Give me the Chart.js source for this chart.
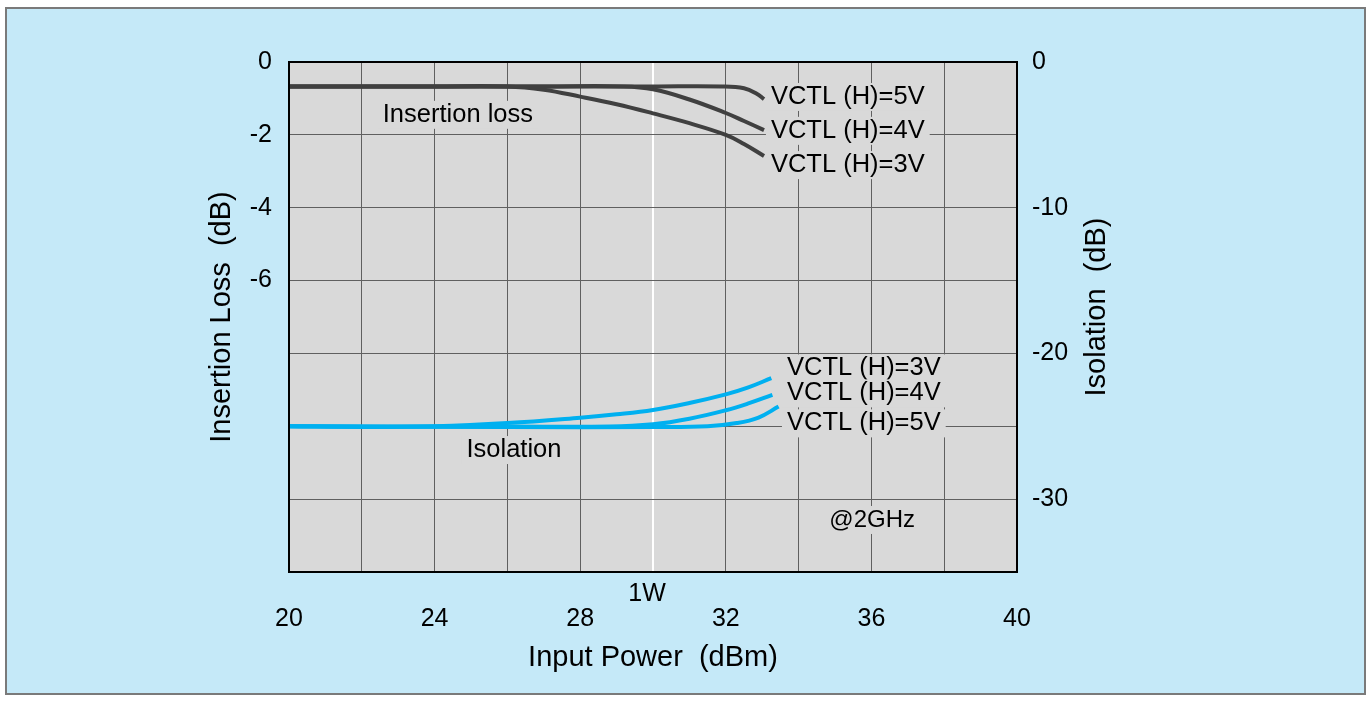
<!DOCTYPE html>
<html>
<head>
<meta charset="utf-8">
<script src="https://cdn.jsdelivr.net/npm/chart.js@4.4.1/dist/chart.umd.min.js"></script>
<style>
  html, body { margin: 0; padding: 0; background: #fff; }
  #frame {
    position: absolute; left: 5px; top: 7px; width: 1361px; height: 688px;
    box-sizing: border-box; border: 2px solid #7a7a7a; background: #c5e9f8;
  }
  #chart { position: absolute; left: 0; top: 0; }
</style>
</head>
<body>
<div id="frame"></div>
<canvas id="chart" width="1372" height="703"></canvas>
<script>
// insertion loss (left axis, dB) vs input power (dBm)
const il3X = [20, 24, 26.0, 27, 28, 29, 30, 31, 32, 32.5, 33.05]
const il3Y = [-0.67, -0.67, -0.67, -0.76, -0.95, -1.16, -1.41, -1.68, -2.0, -2.25, -2.58]
const il4X = [20, 27, 29.2, 30, 31, 32, 32.5, 33.05]
const il4Y = [-0.67, -0.67, -0.67, -0.75, -1.03, -1.4, -1.62, -1.87]
const il5X = [20, 30, 31.9, 32.5, 32.85, 33.05]
const il5Y = [-0.67, -0.67, -0.67, -0.72, -0.87, -1.02]

// isolation (right axis, dB)
const iso3X = [20, 22, 24, 26, 28, 29, 30, 31, 32, 32.6, 33.25]
const iso3Y = [-25, -25.05, -25.0, -24.78, -24.41, -24.18, -23.88, -23.4, -22.81, -22.35, -21.7]
const iso4X = [20, 26, 28.8, 30, 31, 32, 32.6, 33.28]
const iso4Y = [-25, -25.02, -25.02, -24.86, -24.48, -23.9, -23.45, -22.85]
const iso5X = [20, 26, 30, 31.5, 32.3, 32.9, 33.45]
const iso5Y = [-25, -25.05, -25.05, -25.0, -24.78, -24.4, -23.65]

const xTicks = [20, 24, 28, 32, 36, 40]
const leftTicks = [0, -2, -4, -6]
const rightTicks = [0, -10, -20, -30]

const FONT = "'Liberation Sans', Arial, sans-serif"
const IL_COLOR = '#404040'
const ISO_COLOR = '#00b0f0'
const GRID = '#606060'
const PLOT_BG = '#d9d9d9'

function pts(xs, ys) {
    return xs.map((x, i) => ({ x: x, y: ys[i] }))
}

function line(label, xs, ys, color, axis) {
    return {
        label: label,
        data: pts(xs, ys),
        borderColor: color,
        borderWidth: 4,
        pointRadius: 0,
        tension: 0.4,
        yAxisID: axis
    }
}

// text notes placed in data coordinates
const notes = [
    { text: 'Insertion loss', x: 24.64, y: -1.45, axis: 'yL', align: 'center', size: 25.5 },
    { text: 'VCTL (H)=5V', x: 33.24, y: -0.96, axis: 'yL', align: 'left', size: 25.5 },
    { text: 'VCTL (H)=4V', x: 33.24, y: -1.89, axis: 'yL', align: 'left', size: 25.5 },
    { text: 'VCTL (H)=3V', x: 33.24, y: -2.83, axis: 'yL', align: 'left', size: 25.5 },
    { text: 'VCTL (H)=3V', x: 33.68, y: -21.03, axis: 'yR', align: 'left', size: 25.5 },
    { text: 'VCTL (H)=4V', x: 33.68, y: -22.74, axis: 'yR', align: 'left', size: 25.5 },
    { text: 'VCTL (H)=5V', x: 33.68, y: -24.8, axis: 'yR', align: 'left', size: 25.5 },
    { text: 'Isolation', x: 26.18, y: -26.63, axis: 'yR', align: 'center', size: 25.5 },
    { text: '@2GHz', x: 36.02, y: -31.43, axis: 'yR', align: 'center', size: 24 }
]

const plotDecor = {
    id: 'plotDecor',
    beforeDraw(chart) {
        const a = chart.chartArea
        const ctx = chart.ctx
        ctx.save()
        ctx.fillStyle = PLOT_BG
        ctx.fillRect(a.left, a.top, a.right - a.left, a.bottom - a.top)
        ctx.restore()
    },
    afterDatasetsDraw(chart) {
        const ctx = chart.ctx
        const sx = chart.scales.x
        ctx.save()
        ctx.textBaseline = 'middle'
        notes.forEach(n => {
            ctx.font = n.size + 'px ' + FONT
            const px = sx.getPixelForValue(n.x)
            const py = chart.scales[n.axis].getPixelForValue(n.y)
            const w = ctx.measureText(n.text).width
            const left = n.align === 'center' ? px - w / 2 : px
            ctx.fillStyle = PLOT_BG
            ctx.fillRect(left - 5, py - 14, w + 10, 28)
            ctx.fillStyle = '#000'
            ctx.textAlign = 'left'
            ctx.fillText(n.text, left, py)
        })
        // frame of the plot
        const a = chart.chartArea
        ctx.strokeStyle = '#000'
        ctx.lineWidth = 2
        ctx.strokeRect(a.left, a.top, a.right - a.left, a.bottom - a.top)
        // 1W marker
        ctx.font = '25px ' + FONT
        ctx.textAlign = 'center'
        ctx.fillText('1W', sx.getPixelForValue(30) - 6, 594)
        // right axis title, reading upwards like the left one
        ctx.translate(1097, 307)
        ctx.rotate(-Math.PI / 2)
        ctx.font = '29px ' + FONT
        ctx.fillText('Isolation  (dB)', 0, 0)
        ctx.restore()
    }
}

Chart.defaults.font.family = FONT
Chart.defaults.color = '#000'

new Chart(document.getElementById('chart'), {
    type: 'line',
    data: {
        datasets: [
            line('IL 5V', il5X, il5Y, IL_COLOR, 'yL'),
            line('IL 4V', il4X, il4Y, IL_COLOR, 'yL'),
            line('IL 3V', il3X, il3Y, IL_COLOR, 'yL'),
            line('ISO 5V', iso5X, iso5Y, ISO_COLOR, 'yR'),
            line('ISO 4V', iso4X, iso4Y, ISO_COLOR, 'yR'),
            line('ISO 3V', iso3X, iso3Y, ISO_COLOR, 'yR')
        ]
    },
    options: {
        responsive: false,
        animation: false,
        layout: { padding: { top: 62, left: 0, right: 0, bottom: 0 } },
        plugins: { legend: { display: false }, tooltip: { enabled: false } },
        scales: {
            x: {
                type: 'linear',
                min: 20, max: 40,
                afterFit(s) { s.height = 131 },
                border: { display: false },
                grid: {
                    drawTicks: false,
                    color: c => c.tick && c.tick.value === 30 ? '#ffffff' : GRID,
                    lineWidth: c => c.tick && c.tick.value === 30 ? 2 : 1
                },
                ticks: {
                    stepSize: 2, autoSkip: false, maxRotation: 0, padding: 32,
                    font: { size: 25 },
                    callback: v => xTicks.includes(v) ? String(v) : ''
                },
                title: {
                    display: true, text: 'Input Power  (dBm)',
                    font: { size: 29 }, padding: { top: 0, bottom: 28 }
                }
            },
            yL: {
                type: 'linear', position: 'left',
                min: -14, max: 0,
                afterFit(s) { s.width = 289 },
                border: { display: false },
                grid: { drawTicks: false, color: GRID, lineWidth: 1 },
                ticks: {
                    stepSize: 2, autoSkip: false, padding: 17,
                    font: { size: 25 },
                    callback: v => leftTicks.includes(v) ? String(v) : ''
                },
                title: {
                    display: true, text: 'Insertion Loss  (dB)',
                    font: { size: 29 }, padding: { top: 205, bottom: 0 }
                }
            },
            yR: {
                type: 'linear', position: 'right',
                min: -35, max: 0,
                afterFit(s) { s.width = 355 },
                border: { display: false },
                grid: { display: false, drawTicks: false },
                ticks: {
                    stepSize: 5, autoSkip: false, padding: 15,
                    font: { size: 25 },
                    callback: v => rightTicks.includes(v) ? String(v) : ''
                }
            }
        }
    },
    plugins: [plotDecor]
});
</script>
</body>
</html>
